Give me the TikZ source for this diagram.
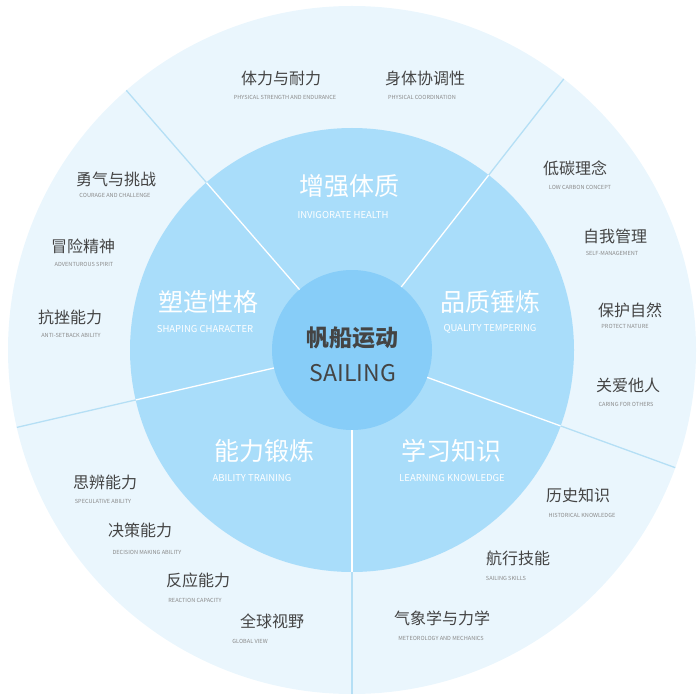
\documentclass[tikz,border=0pt]{standalone}
\usepackage{fontspec}
\usetikzlibrary{calc}
\setmainfont{Noto Sans CJK SC}
\definecolor{outerc}{HTML}{EAF6FD}
\definecolor{midc}{HTML}{A9DDFA}
\definecolor{innc}{HTML}{87CDF8}
\definecolor{linec}{HTML}{B5DFF5}
\definecolor{txt}{HTML}{444444}
\definecolor{subt}{HTML}{8A8A8A}
\begin{document}
\begin{tikzpicture}[x=1pt,y=-1pt,
  cn/.style={text=txt,font=\fontsize{16}{16}\selectfont,inner sep=0},
  en/.style={text=subt,font=\fontsize{5.6}{5}\selectfont,inner sep=0},
  mcn/.style={text=white,font=\fontsize{25}{25}\selectfont,inner sep=0},
  men/.style={text=white,font=\fontsize{9.5}{10}\selectfont,inner sep=0}]
\useasboundingbox (0,0) rectangle (700,700);
\coordinate (c) at (352,350);
\fill[outerc] (c) circle (344);
\fill[midc] (c) circle (222);
\fill[innc] (c) circle (80);
\foreach \a in {-131,-52,20,90,167}{
  \draw[white,line width=1.3pt] ($(c)+(\a:80)$) -- ($(c)+(\a:222)$);
  \draw[linec,line width=1.3pt] ($(c)+(\a:222)$) -- ($(c)+(\a:344)$);
}
% center
\node[text=txt,font=\fontsize{23}{23}\selectfont\bfseries,inner sep=0] (t0) at (352,338) {帆船运动};
\node[text=txt,font=\fontsize{23}{23}\selectfont,inner sep=0] (t0e) at (353,373) {SAILING};
% middle
\node[mcn] (m1) at (349,186) {增强体质}; \node[men] (m1e) at (343,215) {INVIGORATE HEALTH};
\node[mcn] (m2) at (490,302) {品质锤炼}; \node[men] (m2e) at (490,329) {QUALITY TEMPERING};
\node[mcn] (m3) at (451,451) {学习知识}; \node[men] (m3e) at (452,478) {LEARNING KNOWLEDGE};
\node[mcn] (m4) at (264,451) {能力锻炼}; \node[men] (m4e) at (252,478) {ABILITY TRAINING};
\node[mcn] (m5) at (208,302) {塑造性格}; \node[men] (m5e) at (205,329) {SHAPING CHARACTER};
% outer items
\foreach \n/\x/\y/\cn/\ex/\ey/\en in {
 a/281/78/体力与耐力/285/97/PHYSICAL STRENGTH AND ENDURANCE,
 b/425/78/身体协调性/422/97/PHYSICAL COORDINATION,
 c1/575/168/低碳理念/580/187/LOW CARBON CONCEPT,
 d/615/236/自我管理/612/253/SELF-MANAGEMENT,
 e/630/310/保护自然/625/326/PROTECT NATURE,
 f/628/385/关爱他人/626/404/CARING FOR OTHERS,
 g/578/495/历史知识/582/515/HISTORICAL KNOWLEDGE,
 h/518/558/航行技能/506/578/SAILING SKILLS,
 i/442/618/气象学与力学/441/638/METEOROLOGY AND MECHANICS,
 j/272/621/全球视野/250/641/GLOBAL VIEW,
 k/198/580/反应能力/195/600/REACTION CAPACITY,
 l/140/530/决策能力/147/552/DECISION MAKING ABILITY,
 m/105/482/思辨能力/103/501/SPECULATIVE ABILITY,
 n/70/317/抗挫能力/71/335/ANTI-SETBACK ABILITY,
 o/83/246/冒险精神/84/264/ADVENTUROUS SPIRIT,
 p/116/179/勇气与挑战/115/195/COURAGE AND CHALLENGE}{
  \node[cn] (o\n) at (\x,\y) {\cn};
  \node[en] (o\n e) at (\ex,\ey) {\en};
}
\end{tikzpicture}
\end{document}
